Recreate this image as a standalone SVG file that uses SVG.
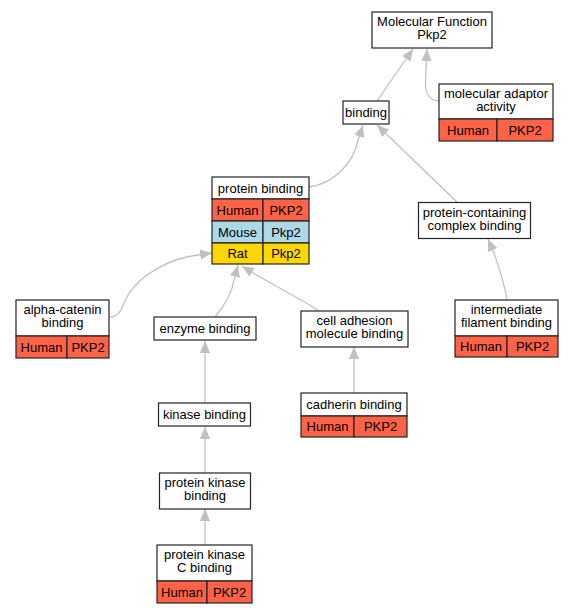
<svg xmlns="http://www.w3.org/2000/svg" width="573" height="613" viewBox="0 0 573 613">
<style>
text{font-family:"Liberation Sans",Arial,sans-serif;font-size:13px;text-anchor:middle;fill:#000}
.b{fill:#fff;stroke:#222;stroke-width:1.2}
.h{fill:#ff6347;stroke:#222;stroke-width:1.2}
.m{fill:#add8e6;stroke:#222;stroke-width:1.2}
.r{fill:#ffd700;stroke:#222;stroke-width:1.2}
.e{fill:none;stroke:#c0c0c0;stroke-width:1.3;marker-end:url(#ah)}
</style>
<defs>
<marker id="ah" markerUnits="userSpaceOnUse" markerWidth="14" markerHeight="12" viewBox="0 -6 14 12" refX="12" refY="0" orient="auto">
<path d="M0,-5.2L12,0L0,5.2z" fill="#c0c0c0"/>
</marker>
</defs>
<g id="edges">
<path class="e" d="M377,101L413,49"/>
<path class="e" d="M439,101C428,100 425,93 425.5,82L427,49"/>
<path class="e" d="M309,187C332,184 353,165 358,140L363,125"/>
<path class="e" d="M457,202L377,125"/>
<path class="e" d="M507,300C505,285 499,268 494,253L488,239"/>
<path class="e" d="M110,317C122,316 122,305 128,295C140,275 170,258 198,255L212,253"/>
<path class="e" d="M215,317C225,305 232,292 234,280L238,265"/>
<path class="e" d="M318,310C295,296 270,283 253,273L242,266"/>
<path class="e" d="M205,403L205,341"/>
<path class="e" d="M205,473L205,427"/>
<path class="e" d="M205,545L205,509"/>
<path class="e" d="M354,393L354,347"/>
</g>
<g id="mf">
<rect class="b" x="372" y="12" width="120" height="36"/>
<text x="432" y="26">Molecular Function</text>
<text x="432" y="39">Pkp2</text>
</g>
<g id="molecular_adaptor_activity">
<rect class="b" x="439" y="84" width="114" height="35"/>
<text x="496" y="98">molecular adaptor</text>
<text x="496" y="111">activity</text>
<rect class="h" x="439" y="119" width="58" height="22"/>
<rect class="h" x="497" y="119" width="56" height="22"/>
<text x="468" y="134.5">Human</text>
<text x="525" y="134.5">PKP2</text>
</g>
<g id="binding">
<rect class="b" x="343" y="101" width="46" height="23"/>
<text x="366" y="117">binding</text>
</g>
<g id="protein_binding">
<rect class="b" x="212" y="177" width="97" height="22"/>
<text x="260.5" y="192.5">protein binding</text>
<rect class="h" x="212" y="199" width="51" height="22"/>
<rect class="h" x="263" y="199" width="46" height="22"/>
<text x="237.5" y="214.5">Human</text>
<text x="286" y="214.5">PKP2</text>
<rect class="m" x="212" y="221" width="51" height="22"/>
<rect class="m" x="263" y="221" width="46" height="22"/>
<text x="237.5" y="236.5">Mouse</text>
<text x="286" y="236.5">Pkp2</text>
<rect class="r" x="212" y="243" width="51" height="21"/>
<rect class="r" x="263" y="243" width="46" height="21"/>
<text x="237.5" y="258">Rat</text>
<text x="286" y="258">Pkp2</text>
</g>
<g id="protein_containing_complex_binding">
<rect class="b" x="418.5" y="202.5" width="112" height="36"/>
<text x="474.5" y="216.5">protein-containing</text>
<text x="474.5" y="229.5">complex binding</text>
</g>
<g id="alpha_catenin_binding">
<rect class="b" x="16" y="300" width="93" height="36"/>
<text x="62.5" y="314">alpha-catenin</text>
<text x="62.5" y="327">binding</text>
<rect class="h" x="16" y="336" width="51" height="22"/>
<rect class="h" x="67" y="336" width="42" height="22"/>
<text x="41.5" y="351.5">Human</text>
<text x="88" y="351.5">PKP2</text>
</g>
<g id="enzyme_binding">
<rect class="b" x="154" y="317" width="102" height="23"/>
<text x="205" y="333">enzyme binding</text>
</g>
<g id="cell_adhesion_molecule_binding">
<rect class="b" x="301" y="311" width="107" height="36"/>
<text x="354.5" y="325">cell adhesion</text>
<text x="354.5" y="338">molecule binding</text>
</g>
<g id="intermediate_filament_binding">
<rect class="b" x="455" y="300" width="103" height="36"/>
<text x="506.5" y="314">intermediate</text>
<text x="506.5" y="327">filament binding</text>
<rect class="h" x="455" y="336" width="52" height="21"/>
<rect class="h" x="507" y="336" width="51" height="21"/>
<text x="481" y="350.5">Human</text>
<text x="532.5" y="350.5">PKP2</text>
</g>
<g id="kinase_binding">
<rect class="b" x="158.5" y="403" width="92" height="23"/>
<text x="204.5" y="419">kinase binding</text>
</g>
<g id="cadherin_binding">
<rect class="b" x="301" y="393" width="106" height="23"/>
<text x="354" y="409">cadherin binding</text>
<rect class="h" x="301" y="416" width="53" height="21"/>
<rect class="h" x="354" y="416" width="53" height="21"/>
<text x="327.5" y="430.5">Human</text>
<text x="380.5" y="430.5">PKP2</text>
</g>
<g id="protein_kinase_binding">
<rect class="b" x="159.5" y="473" width="91" height="36"/>
<text x="205" y="487">protein kinase</text>
<text x="205" y="500">binding</text>
</g>
<g id="protein_kinase_c_binding">
<rect class="b" x="157" y="545" width="95" height="36"/>
<text x="204.5" y="559">protein kinase</text>
<text x="204.5" y="572">C binding</text>
<rect class="h" x="157" y="581" width="50" height="22"/>
<rect class="h" x="207" y="581" width="45" height="22"/>
<text x="182" y="596.5">Human</text>
<text x="229.5" y="596.5">PKP2</text>
</g>
</svg>
